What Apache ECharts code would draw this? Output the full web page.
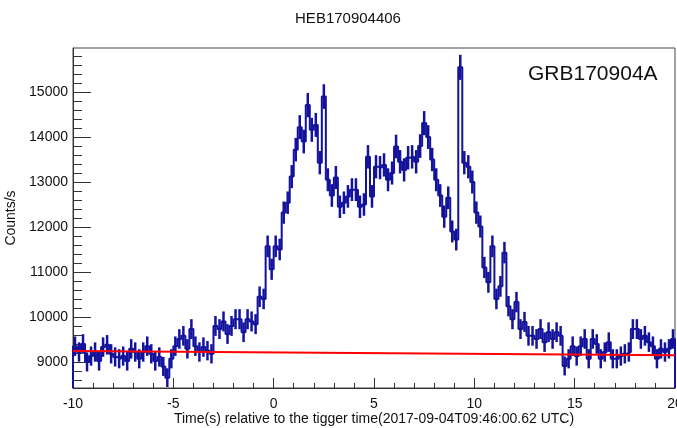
<!DOCTYPE html>
<html lang="en">
<head>
<meta charset="utf-8">
<title>HEB170904406</title>
<script src="https://cdn.jsdelivr.net/npm/echarts@6/dist/echarts.min.js"></script>
<style>
  html, body { margin: 0; padding: 0; background: #fff; }
  #main { width: 677px; height: 428px; }
</style>
</head>
<body>
<div id="main"></div>
<script type="text/javascript">
// light curve, 0.2 s bins starting at -10 s (counts/s)
var binStart = -10;
var binWidth = 0.2;
var counts = [
  9350, 9220, 9400, 9000, 9130, 9220, 9020, 9330, 9380, 9180,
  9110, 9070, 9130, 9020, 9290, 9220, 9070, 9220, 9350, 9180,
  9020, 9110, 8900, 8650, 9070, 9350, 9510, 9580, 9290, 9730,
  9350, 9220, 9330, 9250, 9180, 9800, 9730, 9900, 9620, 9800,
  9950, 9950, 9660, 9950, 9900, 9840, 10450, 10400, 11570, 11060,
  11570, 11500, 12320, 12540, 13120, 13720, 14220, 13900, 14710, 14160,
  14270, 13430, 14900, 13050, 12700, 13100, 12450, 12540, 12680, 12830,
  12830, 12450, 12500, 13560, 12680, 13340, 13320, 13380, 13050, 13200,
  13790, 13450, 13270, 13540, 13560, 13450, 13800, 14310, 14000, 13500,
  13050, 12700, 12230, 12650, 11900, 11720, 15550, 13430, 13340, 13000,
  12320, 12010, 11100, 10770, 11570, 10400, 10680, 11430, 10240, 9950,
  10330, 9730, 9890, 9580, 9580, 9510, 9730, 9440, 9660, 9510,
  9660, 9580, 8910, 9070, 9350, 9130, 9350, 9510, 9070, 9510,
  9400, 9070, 9220, 9440, 9070, 9070, 9130, 9180, 9220, 9730,
  9730, 9510, 9580, 9440, 9350, 9070, 9290, 9220, 9290, 9510
];
// background fit (red line) end points
var bkgTime = [-10, 20];
var bkgRate = [9240, 9150];

var yMajorTicks = [9000, 10000, 11000, 12000, 13000, 14000, 15000];
var yMinorTicks = [8600, 8800, 9200, 9400, 9600, 9800, 10200, 10400, 10600, 10800,
  11200, 11400, 11600, 11800, 12200, 12400, 12600, 12800, 13200, 13400, 13600, 13800,
  14200, 14400, 14600, 14800, 15200, 15400, 15600, 15800];

var yMin = 8420, yMax = 15980;
var xMin = -10, xMax = 20;

var font = 'Liberation Sans, Arial, sans-serif';
var histColor = '#12129c';

// histogram outline: points at bin edges, closed down to the axis at both ends
var stepData = [[binStart, yMin]];
var errData = [];
for (var i = 0; i < counts.length; i++) {
  var left = binStart + i * binWidth;
  stepData.push([left, counts[i]]);
  var err = Math.sqrt(counts[i] / binWidth);
  errData.push([left + binWidth / 2, counts[i] - err, counts[i] + err]);
}
stepData.push([binStart + counts.length * binWidth, counts[counts.length - 1]]);
stepData.push([binStart + counts.length * binWidth, yMin]);

var bkgData = [];
for (var j = 0; j < bkgTime.length; j++) {
  bkgData.push([bkgTime[j], bkgRate[j]]);
}

var myChart = echarts.init(document.getElementById('main'), null, { renderer: 'canvas' });
var option = {
  animation: false,
  backgroundColor: '#fff',
  graphic: [{
    type: 'text',
    x: 348,
    y: 19,
    style: { text: 'HEB170904406', font: '15px ' + font, fill: '#111', align: 'center', verticalAlign: 'middle' }
  }, {
    type: 'text',
    x: 528,
    y: 74,
    style: { text: 'GRB170904A', font: '21px ' + font, fill: '#111', verticalAlign: 'middle' }
  }, {
    type: 'text',
    x: 374,
    y: 419,
    style: {
      text: 'Time(s) relative to the tigger time(2017-09-04T09:46:00.62 UTC)',
      font: '14px ' + font, fill: '#111', align: 'center', verticalAlign: 'middle'
    }
  }],
  grid: {
    left: 73, right: 2, top: 48, bottom: 40,
    outerBoundsMode: 'none',
    containLabel: false,
    show: true, borderColor: '#444', borderWidth: 1
  },
  xAxis: {
    type: 'value',
    min: xMin, max: xMax, interval: 5,
    axisLine: { show: true, onZero: false, lineStyle: { color: '#333', width: 1 } },
    axisTick: { show: true, inside: true, length: 10, lineStyle: { color: '#333' } },
    minorTick: { show: true, splitNumber: 5, length: 5, lineStyle: { color: '#333' } },
    axisLabel: { fontFamily: font, fontSize: 14, color: '#111', margin: 9 },
    splitLine: { show: false }
  },
  yAxis: [{
    type: 'value',
    min: yMin, max: yMax,
    name: 'Counts/s',
    nameLocation: 'middle',
    nameGap: 54,
    nameRotate: 90,
    nameTextStyle: { fontFamily: font, fontSize: 14, color: '#111' },
    axisLine: { show: true, onZero: false, lineStyle: { color: '#333', width: 1 } },
    axisTick: { show: true, inside: true, length: 18, customValues: yMajorTicks, lineStyle: { color: '#333' } },
    axisLabel: {
      fontFamily: font, fontSize: 14, color: '#111', margin: 5, customValues: yMajorTicks,
      formatter: function (v) { return String(v); }
    },
    splitLine: { show: false }
  }, {
    type: 'value',
    position: 'left',
    min: yMin, max: yMax,
    axisLine: { show: false, onZero: false },
    axisTick: { show: true, inside: true, length: 9, customValues: yMinorTicks, lineStyle: { color: '#333' } },
    axisLabel: { show: false },
    splitLine: { show: false }
  }],
  series: [{
    type: 'line',
    step: 'end',
    data: stepData,
    symbol: 'none',
    lineStyle: { color: histColor, width: 2 },
    z: 3
  }, {
    type: 'custom',
    data: errData,
    renderItem: function (params, api) {
      var lo = api.coord([api.value(0), api.value(1)]);
      var hi = api.coord([api.value(0), api.value(2)]);
      return {
        type: 'line',
        shape: { x1: lo[0], y1: lo[1], x2: hi[0], y2: hi[1] },
        style: { stroke: histColor, lineWidth: 2.5 }
      };
    },
    z: 3
  }, {
    type: 'line',
    data: bkgData,
    symbol: 'none',
    lineStyle: { color: '#ff0000', width: 2 },
    z: 4
  }]
};
myChart.setOption(option);
</script>
</body>
</html>
